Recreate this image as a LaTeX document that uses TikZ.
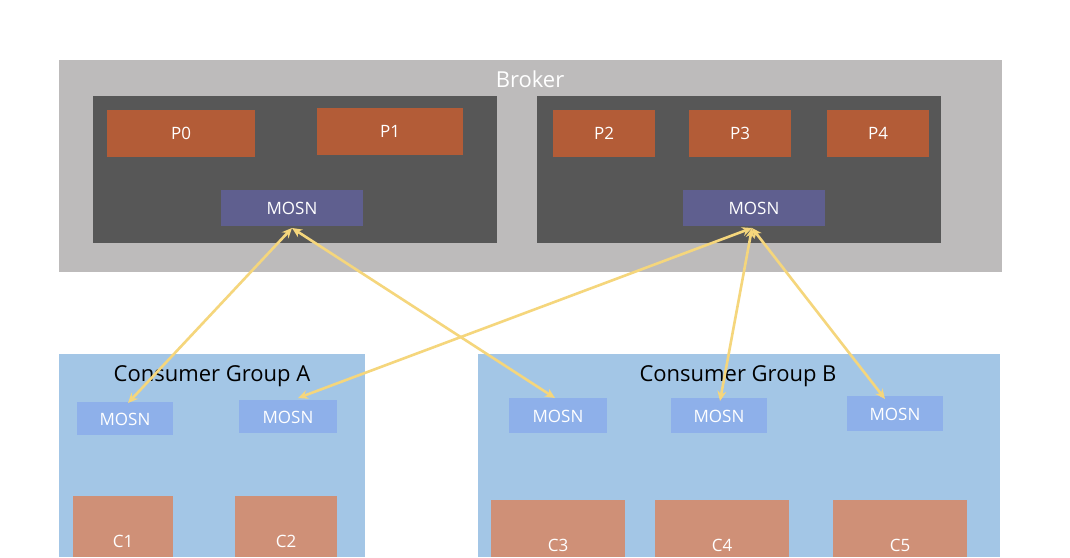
\documentclass[tikz,border=0pt]{standalone}
\usepackage{fontspec}
\setmainfont{Open Sans}
\usetikzlibrary{arrows.meta}
\definecolor{brk}{HTML}{BDBBBB}
\definecolor{dark}{HTML}{575757}
\definecolor{pcol}{HTML}{B35C37}
\definecolor{mtop}{HTML}{5F5F8F}
\definecolor{grp}{HTML}{A3C6E6}
\definecolor{msm}{HTML}{8EB0EA}
\definecolor{ccol}{HTML}{CF9077}
\definecolor{arr}{HTML}{F5D67C}
\begin{document}
\begin{tikzpicture}[x=1pt,y=-1pt,
  box/.style={inner sep=0pt,outer sep=0pt,text=white,font=\fontsize{17}{19}\selectfont},
  link/.style={draw=arr,line width=2.6pt,{Stealth[length=10pt,width=9pt]}-{Stealth[length=10pt,width=9pt]}}]
\useasboundingbox (0,0) rectangle (1070,557);
\fill[white] (0,0) rectangle (1070,557);
\fill[brk] (59,60) rectangle (1002,272);
\node[text=white,font=\fontsize{22}{24}\selectfont] (brk) at (530,79) {Broker};
\fill[dark] (93,96) rectangle (497,243);
\fill[dark] (537,96) rectangle (941,243);
\foreach \n/\a/\b/\c/\d in {P0/107/110/255/157,P1/317/108/463/155,P2/553/110/655/157,P3/689/110/791/157,P4/827/110/929/157}{
  \fill[pcol] (\a,\b) rectangle (\c,\d);
  \node[box] (\n) at ({(\a+\c)/2},{(\b+\d)/2}) {\n};}
\fill[mtop] (221,190) rectangle (363,226);
\node[box] (M1) at (292,208) {MOSN};
\fill[mtop] (683,190) rectangle (825,226);
\node[box] (M2) at (754,208) {MOSN};
\fill[grp] (59,354) rectangle (365,557);
\fill[grp] (478,354) rectangle (1000,557);
\node[font=\fontsize{22}{24}\selectfont] (GA) at (212,376) {Consumer Group A};
\node[font=\fontsize{22}{24}\selectfont] (GB) at (738,376) {Consumer Group B};
\foreach \n/\a/\b/\c/\d in {A1/77/402/173/435,A2/239/400/337/433,B1/509/398/607/433,B2/671/398/767/433,B3/847/396/943/431}{
  \fill[msm] (\a,\b) rectangle (\c,\d);
  \node[box] (\n) at ({(\a+\c)/2},{(\b+\d)/2+1}) {MOSN};}
\foreach \n/\a/\b/\c/\d/\y in {C1/73/496/173/557/541,C2/235/496/337/557/541,C3/491/500/625/557/545,C4/655/500/789/557/545,C5/833/500/967/557/545}{
  \fill[ccol] (\a,\b) rectangle (\c,\d);
  \node[box] (\n) at ({(\a+\c)/2},\y) {\n};}
\coordinate (t1) at (292,228);
\coordinate (t2) at (752,228);
\coordinate (a1) at (128,403);
\coordinate (a2) at (298,398);
\coordinate (b1) at (555,398);
\coordinate (b2) at (720,401);
\coordinate (b3) at (885,399);
\draw[link] (a1) -- (t1);
\draw[link] (b1) -- (t1);
\draw[link] (a2) -- (t2);
\draw[link] (b2) -- (t2);
\draw[link] (b3) -- (t2);
\end{tikzpicture}
\end{document}
